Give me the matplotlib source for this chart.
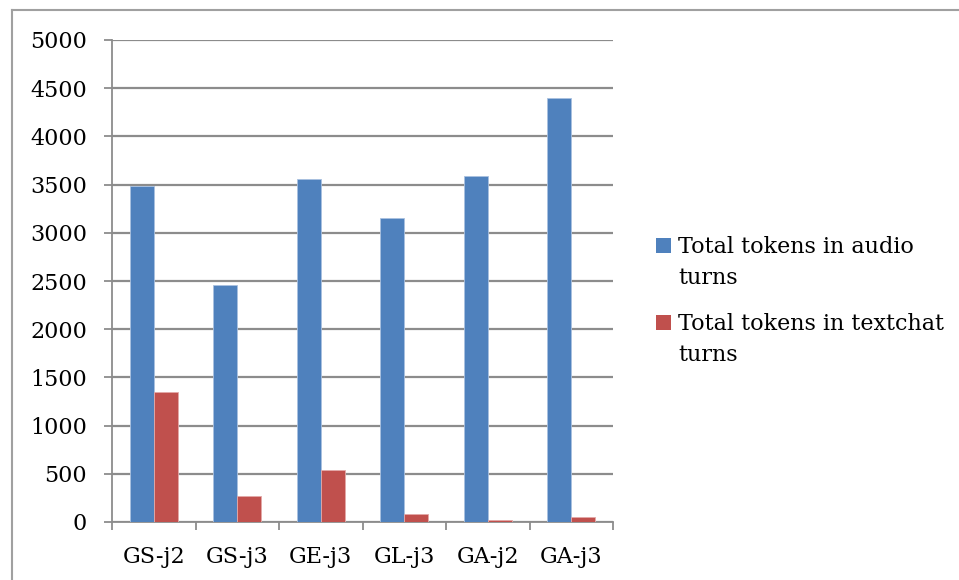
import matplotlib
matplotlib.use("Agg")
import matplotlib.pyplot as plt
from matplotlib.lines import Line2D
from matplotlib.patches import Rectangle
import numpy as np

# data
categories = ["GS-j2", "GS-j3", "GE-j3", "GL-j3", "GA-j2", "GA-j3"]
audio_tokens = [3485, 2458, 3558, 3150, 3586, 4395]
textchat_tokens = [1345, 273, 543, 80, 21, 49]
series_labels = ["Total tokens in audio\nturns", "Total tokens in textchat\nturns"]
y_ticks = [0, 500, 1000, 1500, 2000, 2500, 3000, 3500, 4000, 4500, 5000]

blue = "#4F81BD"
red = "#C0504D"
grid_grey = "#8C8C8C"
FS = 16

plt.rcParams["font.family"] = ["DejaVu Serif"]

W, H = 959, 580
fig = plt.figure(figsize=(W / 100, H / 100), dpi=100)
ax = fig.add_axes([112 / W, 1 - 522 / H, (613 - 112) / W, (522 - 40) / H])

x = np.arange(len(categories))
w = 0.2875
ax.bar(x - w / 2, audio_tokens, w, color=blue, edgecolor="#A9C1E0", linewidth=0.6, zorder=3)
ax.bar(x + w / 2, textchat_tokens, w, color=red, edgecolor="#E3A9A8", linewidth=0.6, zorder=3)

ax.set_xlim(-0.5, len(categories) - 0.5)
ax.set_ylim(0, 5000)
ax.set_yticks(y_ticks)
ax.set_yticklabels([str(t) for t in y_ticks], fontsize=FS)
ax.yaxis.grid(True, color=grid_grey, linewidth=1.6, zorder=0)

# category ticks sit between the groups, labels at the centres
ax.set_xticks(np.arange(len(categories) + 1) - 0.5)
ax.set_xticklabels([])
ax.set_xticks(x, minor=True)
ax.set_xticklabels(categories, minor=True, fontsize=FS)
ax.tick_params(axis="x", which="major", length=6, width=1.3, color=grid_grey, direction="out")
ax.tick_params(axis="x", which="minor", length=0, pad=17)
ax.tick_params(axis="y", length=6, width=1.3, color=grid_grey, pad=12)

for side in ["top", "right"]:
    ax.spines[side].set_visible(False)
for side in ["left", "bottom"]:
    ax.spines[side].set_color(grid_grey)
    ax.spines[side].set_linewidth(1.3)

# legend drawn by hand: square beside the first line of each wrapped label
def px(xp, yp):
    return xp / W, 1 - yp / H

for i, (label, col) in enumerate(zip(series_labels, [blue, red])):
    base = 253 + i * 77
    sx, sy = px(656, base)
    fig.add_artist(Rectangle((sx, sy), 15 / W, 15 / H, transform=fig.transFigure,
                             facecolor=col, edgecolor="none"))
    for j, line in enumerate(label.split("\n")):
        tx, ty = px(678, base + j * 31)
        fig.text(tx, ty, line, fontsize=FS, va="baseline", ha="left")

# outer chart frame (only top and left edges are visible)
fig.add_artist(Line2D([12 / W, 1], [1 - 10 / H, 1 - 10 / H],
                      transform=fig.transFigure, color="#A0A0A0", linewidth=1.5))
fig.add_artist(Line2D([12 / W, 12 / W], [0, 1 - 10 / H],
                      transform=fig.transFigure, color="#A0A0A0", linewidth=1.5))

fig.savefig("out.png", dpi=100)
